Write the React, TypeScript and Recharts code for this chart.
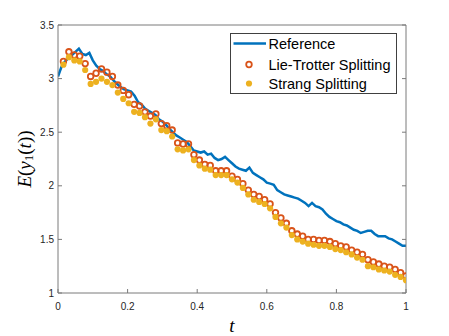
import React from 'react';
import { ComposedChart, Line, Scatter, XAxis, YAxis } from 'recharts';

// reference solution, sampled every 0.01
const refTimes = [
  0, 0.01, 0.02, 0.03, 0.04, 0.05, 0.06, 0.07, 0.08, 0.09,
  0.1, 0.11, 0.12, 0.13, 0.14, 0.15, 0.16, 0.17, 0.18, 0.19,
  0.2, 0.21, 0.22, 0.23, 0.24, 0.25, 0.26, 0.27, 0.28, 0.29,
  0.3, 0.31, 0.32, 0.33, 0.34, 0.35, 0.36, 0.37, 0.38, 0.39,
  0.4, 0.41, 0.42, 0.43, 0.44, 0.45, 0.46, 0.47, 0.48, 0.49,
  0.5, 0.51, 0.52, 0.53, 0.54, 0.55, 0.56, 0.57, 0.58, 0.59,
  0.6, 0.61, 0.62, 0.63, 0.64, 0.65, 0.66, 0.67, 0.68, 0.69,
  0.7, 0.71, 0.72, 0.73, 0.74, 0.75, 0.76, 0.77, 0.78, 0.79,
  0.8, 0.81, 0.82, 0.83, 0.84, 0.85, 0.86, 0.87, 0.88, 0.89,
  0.9, 0.91, 0.92, 0.93, 0.94, 0.95, 0.96, 0.97, 0.98, 0.99, 1,
];
const refValues = [
  3.02, 3.11, 3.16, 3.19, 3.22, 3.25, 3.28, 3.23, 3.22, 3.24,
  3.17, 3.12, 3.09, 3.07, 3.04, 3.02, 2.98, 2.95, 2.92, 2.9,
  2.89, 2.88, 2.84, 2.78, 2.76, 2.72, 2.7, 2.68, 2.66, 2.62,
  2.6, 2.57, 2.53, 2.5, 2.47, 2.45, 2.43, 2.41, 2.37, 2.33,
  2.32, 2.31, 2.32, 2.29, 2.3, 2.26, 2.24, 2.25, 2.27, 2.24,
  2.21, 2.18, 2.16, 2.15, 2.14, 2.17, 2.12, 2.1, 2.08, 2.06,
  2.03, 2.02, 2.01, 1.96, 1.94, 1.92, 1.91, 1.9, 1.89, 1.88,
  1.86, 1.84, 1.81, 1.84, 1.81, 1.8, 1.78, 1.74, 1.71, 1.69,
  1.67, 1.66, 1.64, 1.63, 1.61, 1.59, 1.58, 1.56, 1.57, 1.58,
  1.58, 1.55, 1.53, 1.53, 1.53, 1.51, 1.5, 1.48, 1.46, 1.44, 1.44,
];

// splitting schemes, step 1/64
const stepTimes = [
  0.0156, 0.0313, 0.0469, 0.0625, 0.0781, 0.0938, 0.1094, 0.125,
  0.1406, 0.1563, 0.1719, 0.1875, 0.2031, 0.2188, 0.2344, 0.25,
  0.2656, 0.2813, 0.2969, 0.3125, 0.3281, 0.3438, 0.3594, 0.375,
  0.3906, 0.4063, 0.4219, 0.4375, 0.4531, 0.4688, 0.4844, 0.5,
  0.5156, 0.5313, 0.5469, 0.5625, 0.5781, 0.5938, 0.6094, 0.625,
  0.6406, 0.6563, 0.6719, 0.6875, 0.7031, 0.7188, 0.7344, 0.75,
  0.7656, 0.7813, 0.7969, 0.8125, 0.8281, 0.8438, 0.8594, 0.875,
  0.8906, 0.9063, 0.9219, 0.9375, 0.9531, 0.9688, 0.9844, 1,
];
const lieTrotter = [
  3.16, 3.25, 3.22, 3.21, 3.14, 3.02, 3.05, 3.09,
  3.06, 3.02, 2.94, 2.89, 2.85, 2.76, 2.745, 2.69,
  2.65, 2.67, 2.58, 2.56, 2.52, 2.4, 2.39, 2.39,
  2.29, 2.24, 2.2, 2.19, 2.14, 2.14, 2.14, 2.09,
  2.06, 2.02, 1.96, 1.92, 1.9, 1.87, 1.83, 1.75,
  1.7, 1.65, 1.58, 1.55, 1.53, 1.5, 1.5, 1.49,
  1.49, 1.48, 1.46, 1.44, 1.43, 1.4, 1.38, 1.36,
  1.31, 1.29, 1.27, 1.25, 1.24, 1.22, 1.19, 1.16,
];
const strang = [
  3.13, 3.2, 3.17, 3.16, 3.08, 2.95, 2.97, 3.0,
  2.97, 2.94, 2.87, 2.81, 2.77, 2.69, 2.68, 2.64,
  2.58, 2.62, 2.52, 2.51, 2.46, 2.34, 2.33, 2.34,
  2.24, 2.19, 2.16, 2.15, 2.1, 2.1, 2.1, 2.06,
  2.03, 1.98, 1.92, 1.87, 1.85, 1.83, 1.79, 1.71,
  1.65, 1.61, 1.54, 1.5, 1.48, 1.46, 1.45, 1.44,
  1.44, 1.43, 1.41, 1.4, 1.38, 1.36, 1.33, 1.31,
  1.25, 1.24, 1.22, 1.21, 1.2, 1.17, 1.15, 1.12,
];

const xTicks = [0, 0.2, 0.4, 0.6, 0.8, 1];
const yTicks = [1, 1.5, 2, 2.5, 3, 3.5];
const seriesNames = ['Reference', 'Lie-Trotter Splitting', 'Strang Splitting'];

const BLUE = '#0072BD';
const ORANGE = '#D95319';
const YELLOW = '#EDB120';
const AXIS = '#7a7a7a';
const TEXT = '#262626';

const refData = refTimes.map((t, i) => ({ t, e: refValues[i] }));
const lieData = stepTimes.map((t, i) => ({ t, e: lieTrotter[i] }));
const strangData = stepTimes.map((t, i) => ({ t, e: strang[i] }));

const tickFont = { fill: TEXT, fontSize: 10, fontFamily: 'Liberation Sans, Arial, sans-serif' };
const mathFont = 'Liberation Serif, Times New Roman, serif';

const OpenCircle = (p: any) => (
  <circle cx={p.cx} cy={p.cy} r={2.8} fill="none" stroke={ORANGE} strokeWidth={1.8} />
);
const FilledDot = (p: any) => <circle cx={p.cx} cy={p.cy} r={3.1} fill={YELLOW} />;

const YLabel = (props: any) => {
  const vb = props.viewBox || { x: 0, y: 25, width: 58, height: 268 };
  const cx = vb.x + 24;
  const cy = vb.y + vb.height / 2;
  return (
    <text
      x={cx}
      y={cy}
      transform={`rotate(-90, ${cx}, ${cy})`}
      textAnchor="middle"
      dominantBaseline="central"
      fontFamily={mathFont}
      fontSize={19}
      fill="#000"
    >
      <tspan fontStyle="italic">E</tspan>
      <tspan>(</tspan>
      <tspan fontStyle="italic">y</tspan>
      <tspan fontSize={13} dy={4}>1</tspan>
      <tspan dy={-4}>(</tspan>
      <tspan fontStyle="italic">t</tspan>
      <tspan>))</tspan>
    </text>
  );
};

const XLabel = (props: any) => {
  const vb = props.viewBox || { x: 58, y: 293, width: 348, height: 43 };
  return (
    <text
      x={vb.x + vb.width / 2}
      y={325}
      textAnchor="middle"
      dominantBaseline="central"
      fontFamily={mathFont}
      fontStyle="italic"
      fontSize={19}
      fill="#000"
    >
      t
    </text>
  );
};

const LegendBox = () => (
  <div
    style={{
      position: 'absolute',
      left: 230,
      top: 33,
      width: 167,
      height: 61,
      border: '1px solid #404040',
      background: '#fff',
      boxSizing: 'border-box',
    }}
  >
    <svg width={167} height={61} style={{ position: 'absolute', left: -1, top: -1 }}>
      <line x1={3.5} y1={10.5} x2={36} y2={10.5} stroke={BLUE} strokeWidth={2.5} />
      <circle cx={19} cy={31.5} r={2.8} fill="none" stroke={ORANGE} strokeWidth={1.8} />
      <circle cx={19} cy={50.5} r={3.1} fill={YELLOW} />
      {seriesNames.map((name, i) => (
        <text
          key={name}
          x={38.5}
          y={[10.5, 31.5, 50.5][i]}
          dominantBaseline="central"
          fontFamily="Liberation Sans, Arial, sans-serif"
          fontSize={14.5}
          fill="#000"
        >
          {name}
        </text>
      ))}
    </svg>
  </div>
);

export default function App() {
  return (
    <div style={{ position: 'absolute', left: 0, top: 0, width: 449, height: 336, background: '#fff' }}>
      <ComposedChart width={449} height={336} margin={{ top: 0, right: 0, bottom: 0, left: 0 }}>
        <XAxis
          xAxisId="b"
          type="number"
          dataKey="t"
          domain={[0, 1]}
          ticks={xTicks}
          allowDataOverflow
          height={43}
          stroke={AXIS}
          tickSize={-4}
          tickMargin={14}
          tick={tickFont}
          label={<XLabel />}
        />
        <XAxis
          xAxisId="top"
          orientation="top"
          type="number"
          domain={[0, 1]}
          ticks={xTicks}
          allowDataOverflow
          height={25}
          stroke={AXIS}
          tickSize={-4}
          tickFormatter={() => ''}
        />
        <YAxis
          yAxisId="l"
          type="number"
          dataKey="e"
          domain={[1, 3.5]}
          ticks={yTicks}
          allowDataOverflow
          width={58}
          stroke={AXIS}
          tickSize={-4}
          tickMargin={8}
          tick={tickFont}
          label={<YLabel />}
        />
        <YAxis
          yAxisId="r"
          orientation="right"
          type="number"
          domain={[1, 3.5]}
          ticks={yTicks}
          allowDataOverflow
          width={43}
          stroke={AXIS}
          tickSize={-4}
          tickFormatter={() => ''}
        />
        <Line
          xAxisId="b"
          yAxisId="l"
          data={refData}
          dataKey="e"
          type="linear"
          stroke={BLUE}
          strokeWidth={2.5}
          dot={false}
          isAnimationActive={false}
        />
        <Scatter
          xAxisId="b"
          yAxisId="l"
          data={lieData}
          dataKey="e"
          shape={OpenCircle}
          isAnimationActive={false}
        />
        <Scatter
          xAxisId="b"
          yAxisId="l"
          data={strangData}
          dataKey="e"
          shape={FilledDot}
          isAnimationActive={false}
        />
      </ComposedChart>
      <LegendBox />
    </div>
  );
}
